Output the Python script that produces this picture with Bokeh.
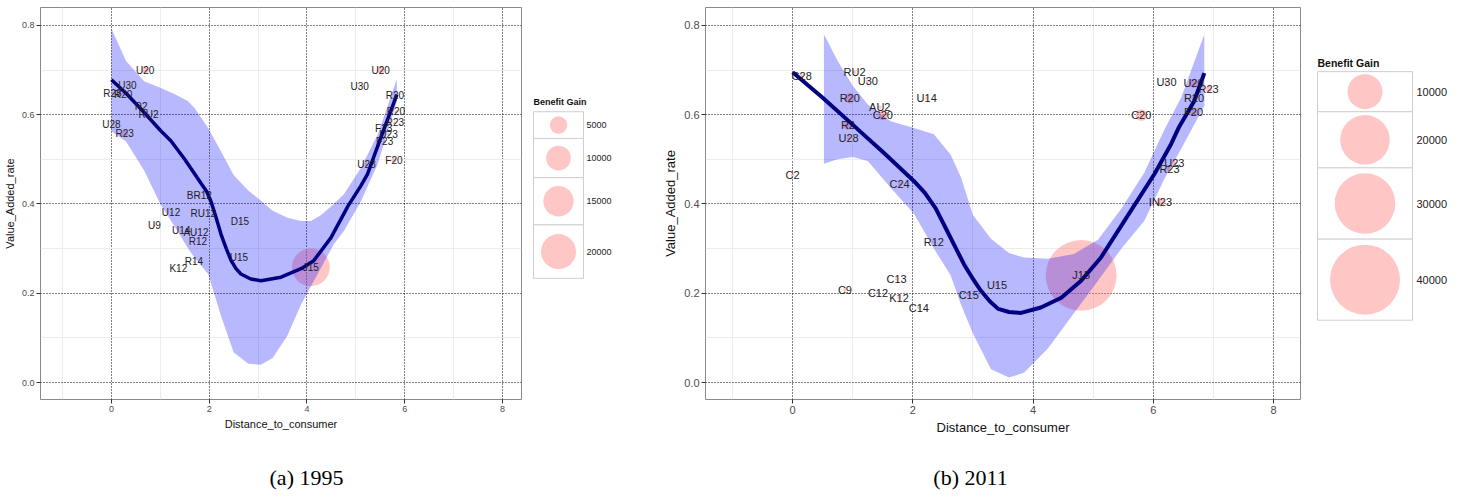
import math
from bokeh.plotting import figure
from bokeh.layouts import row, column
from bokeh.models import FixedTicker, PrintfTickFormatter, Range1d, ColumnDataSource
from bokeh.core.properties import value
from bokeh.embed import file_html
from bokeh.resources import INLINE

# ---------------- 1995 data ----------------
names_95 = ["U20", "U30", "R28", "R20", "R2", "RU2", "U28", "R23",
            "BR12", "U12", "RU12", "D15", "U9", "U14", "AU12", "R12", "U15", "R14", "K12",
            "J15", "U20", "U30", "R20", "R20", "R23", "F23", "U23", "F23", "U23", "F20"]
x_95 = [0.69, 0.33, 0.02, 0.24, 0.61, 0.76, 0.00, 0.27,
        1.80, 1.22, 1.88, 2.63, 0.88, 1.43, 1.73, 1.77, 2.61, 1.69, 1.37,
        4.08, 5.51, 5.08, 5.80, 5.82, 5.80, 5.57, 5.67, 5.59, 5.22, 5.78]
y_95 = [0.700, 0.666, 0.648, 0.646, 0.619, 0.600, 0.579, 0.557,
        0.418, 0.380, 0.378, 0.360, 0.351, 0.340, 0.335, 0.315, 0.279, 0.270, 0.255,
        0.258, 0.700, 0.664, 0.644, 0.606, 0.582, 0.568, 0.556, 0.539, 0.489, 0.498]
gain_95 = [900, 100, 100, 200, 100, 100, 100, 700,
           150, 100, 100, 100, 100, 100, 100, 100, 100, 100, 100,
           23500, 900, 100, 150, 200, 200, 200, 150, 150, 150, 400]

sx_95 = [0, 0.3, 0.61, 1.0, 1.22, 1.5, 1.84, 1.95, 2.04, 2.14, 2.24, 2.35, 2.45, 2.55, 2.65, 2.85, 3.06,
         3.47, 3.88, 4.14, 4.49, 4.84, 5.1, 5.24, 5.51, 5.84]
sy_95 = [0.678, 0.648, 0.612, 0.565, 0.541, 0.50, 0.445, 0.428, 0.405, 0.37, 0.333, 0.30, 0.273, 0.255,
         0.243, 0.232, 0.228, 0.236, 0.255, 0.273, 0.324, 0.395, 0.44, 0.467, 0.548, 0.645]
bx_95 = [0, 0.3, 0.67, 1.0, 1.29, 1.57, 1.7, 1.98, 2.24, 2.5, 2.8, 3.06, 3.3, 3.6,
         3.88, 4.08, 4.29, 4.55, 4.76, 5.1, 5.45, 5.84]
bhi_95 = [0.793, 0.72, 0.675, 0.66, 0.646, 0.63, 0.615, 0.57, 0.518, 0.465, 0.43, 0.407, 0.385, 0.369,
          0.362, 0.362, 0.375, 0.40, 0.422, 0.48, 0.556, 0.68]
blo_95 = [0.563, 0.54, 0.475, 0.40, 0.35, 0.30, 0.28, 0.243, 0.15, 0.068, 0.042, 0.04, 0.055, 0.105,
          0.175, 0.215, 0.257, 0.31, 0.34, 0.405, 0.49, 0.63]

# ---------------- 2011 data ----------------
names_11 = ["C28", "RU2", "U30", "R20", "AU2", "C20", "U14", "R2", "U28", "C2", "C24", "R12",
            "C13", "C9", "C12", "K12", "C14", "C15", "U15", "J15",
            "C20", "IN23", "R23", "U23", "U30", "U20", "R23", "R20", "F20"]
x_11 = [0.15, 1.03, 1.25, 0.95, 1.45, 1.50, 2.23, 0.92, 0.93, 0.00, 1.78, 2.35,
        1.73, 0.87, 1.42, 1.77, 2.10, 2.93, 3.40, 4.80,
        5.80, 6.12, 6.27, 6.35, 6.22, 6.67, 6.92, 6.68, 6.67]
y_11 = [0.686, 0.695, 0.675, 0.637, 0.617, 0.599, 0.637, 0.577, 0.548, 0.465, 0.445, 0.315,
        0.232, 0.208, 0.201, 0.190, 0.168, 0.197, 0.219, 0.240,
        0.599, 0.404, 0.478, 0.492, 0.673, 0.670, 0.657, 0.637, 0.606]
gain_11 = [200, 100, 100, 900, 100, 900, 100, 800, 100, 100, 100, 100,
           100, 100, 100, 100, 100, 100, 100, 41000,
           1100, 600, 200, 200, 100, 700, 300, 200, 600]

sx_11 = [0, 0.5, 0.97, 1.52, 2.02, 2.2, 2.38, 2.55, 2.7, 2.85, 3.0, 3.13, 3.28, 3.42, 3.6, 3.8, 4.13,
         4.47, 4.8, 5.13, 5.52, 6.02, 6.3, 6.42, 6.68, 6.85]
sy_11 = [0.695, 0.638, 0.581, 0.514, 0.451, 0.425, 0.39, 0.345, 0.305, 0.265, 0.232, 0.206, 0.182,
         0.165, 0.158, 0.156, 0.168, 0.19, 0.228, 0.28, 0.362, 0.467, 0.535, 0.57, 0.63, 0.693]
bx_11 = [0.52, 0.75, 1.0, 1.25, 1.63, 2.02, 2.35, 2.63, 2.8, 3.0, 3.3, 3.6, 3.85, 4.25,
         4.68, 5.08, 5.47, 5.85, 6.18, 6.47, 6.85]
bhi_11 = [0.78, 0.72, 0.665, 0.623, 0.585, 0.57, 0.556, 0.51, 0.46, 0.375, 0.322, 0.29, 0.28, 0.277,
          0.288, 0.32, 0.39, 0.47, 0.565, 0.64, 0.78]
blo_11 = [0.49, 0.50, 0.505, 0.496, 0.436, 0.378, 0.30, 0.24, 0.175, 0.11, 0.03, 0.011, 0.022, 0.077,
          0.155, 0.228, 0.30, 0.362, 0.455, 0.525, 0.62]

legend_95 = [5000, 10000, 15000, 20000]
legend_11 = [10000, 20000, 30000, 40000]

x_ticks = [0, 2, 4, 6, 8]
x_minor = [-1, 1, 3, 5, 7]
y_ticks = [0.0, 0.2, 0.4, 0.6, 0.8]
y_minor = [0.1, 0.3, 0.5, 0.7]

BUBBLE = "#ff8080"
RIBBON = "#0000ff"
LINE = "#000080"
FONT = "Liberation Sans"


def panel(names, xs, ys, gains, sx, sy, bx, blo, bhi, dref, gref,
          width, height, mbl, xr, yr, tick_fs, title_fs, lab_fs, lw):
    p = figure(width=width, height=height, x_range=Range1d(*xr), y_range=Range1d(*yr),
               output_backend="svg", toolbar_location=None,
               min_border_left=mbl, min_border_right=5, min_border_top=7, min_border_bottom=41,
               x_axis_label="Distance_to_consumer", y_axis_label="Value_Added_rate")
    p.background_fill_color = "white"
    p.border_fill_color = "white"
    p.outline_line_color = "#8a8a8a"
    p.outline_line_width = 1
    p.xaxis.ticker = FixedTicker(ticks=x_ticks, minor_ticks=x_minor)
    p.yaxis.ticker = FixedTicker(ticks=y_ticks, minor_ticks=y_minor)
    p.xaxis.formatter = PrintfTickFormatter(format="%d")
    p.yaxis.formatter = PrintfTickFormatter(format="%.1f")
    for ax in (p.xaxis, p.yaxis):
        ax.axis_line_color = None
        ax.major_tick_line_color = "#333333"
        ax.major_tick_out = 4
        ax.major_tick_in = 0
        ax.minor_tick_line_color = None
        ax.major_label_text_font = FONT
        ax.major_label_text_font_size = tick_fs
        ax.major_label_text_color = "#4d4d4d"
        ax.axis_label_text_font = FONT
        ax.axis_label_text_font_size = title_fs
        ax.axis_label_text_font_style = "normal"
        ax.axis_label_text_color = "#111111"
        ax.major_label_standoff = 2
        ax.axis_label_standoff = 3
    for g in (p.xgrid, p.ygrid):
        g.grid_line_color = "black"
        g.grid_line_dash = "1 2"
        g.grid_line_width = 1
        g.minor_grid_line_color = "#ececec"
        g.minor_grid_line_width = 1

    d = [dref * math.sqrt(g / gref) for g in gains]
    src = ColumnDataSource(dict(x=xs, y=ys, name=names, d=d))
    p.scatter("x", "y", size="d", source=src, fill_color=BUBBLE, fill_alpha=0.45, line_color=None)
    p.varea(x=bx, y1=blo, y2=bhi, fill_color=RIBBON, fill_alpha=0.28)
    p.line(sx, sy, line_color=LINE, line_width=lw, line_join="round")
    p.text("x", "y", text="name", source=src, text_font=value(FONT), text_font_size=lab_fs,
           text_align="center", text_baseline="middle", text_color="#222222")
    return p


def legend_fig(width, height, vals, dref, gref, title_x, title_y, bx0, bx1, rows,
               lab_x, title_fs, lab_fs):
    f = figure(width=width, height=height, x_range=Range1d(0, width), y_range=Range1d(height, 0),
               output_backend="svg", toolbar_location=None, min_border=0)
    f.axis.visible = False
    f.grid.visible = False
    f.outline_line_color = None
    f.text([title_x], [title_y], text=["Benefit Gain"], text_font=value(FONT),
           text_font_size=title_fs, text_font_style="bold", text_align="left",
           text_baseline="middle", text_color="#111111")
    cx = (bx0 + bx1) / 2
    for i, v in enumerate(vals):
        y0, y1 = rows[i], rows[i + 1]
        f.quad(left=bx0, right=bx1, top=y0, bottom=y1, fill_color="white",
               line_color="#cfcfcf", line_width=1)
        cy = (y0 + y1) / 2
        f.scatter([cx], [cy], size=dref * math.sqrt(v / gref), fill_color=BUBBLE,
                  fill_alpha=0.45, line_color=None)
        f.text([lab_x], [cy], text=[str(v)], text_font=value(FONT), text_font_size=lab_fs,
               text_align="left", text_baseline="middle", text_color="#222222")
    return f


p1 = panel(names_95, x_95, y_95, gain_95, sx_95, sy_95, bx_95, blo_95, bhi_95, 35, 20000,
           526, 440, 39, (-1.45, 8.39), (-0.038, 0.840), "9px", "11px", "10px", 3.5)
p2 = panel(names_11, x_11, y_11, gain_11, sx_11, sy_11, bx_11, blo_11, bhi_11, 35, 10000,
           645, 440, 45, (-1.45, 8.45), (-0.038, 0.840), "11px", "13px", "11px", 4)

L1 = legend_fig(134, 440, legend_95, 35, 20000, 7, 106, 7, 57,
                [117, 147, 191, 244, 304], 60, "9px", "9px")
L2 = legend_fig(153, 440, legend_11, 35, 10000, 12, 62, 12, 107,
                [72, 117, 180, 260, 351], 111, "10.5px", "11px")

cap = figure(width=1458, height=50, x_range=Range1d(0, 1458), y_range=Range1d(50, 0),
             output_backend="svg", toolbar_location=None, min_border=0)
cap.axis.visible = False
cap.grid.visible = False
cap.outline_line_color = None
cap.text([306, 970], [37, 37], text=["(a) 1995", "(b) 2011"], text_font=value("Liberation Serif"),
         text_font_size="22px", text_align="center", text_baseline="middle", text_color="black")

layout = column(row(p1, L1, p2, L2), cap)
open("out.html", "w").write(file_html(layout, INLINE))
